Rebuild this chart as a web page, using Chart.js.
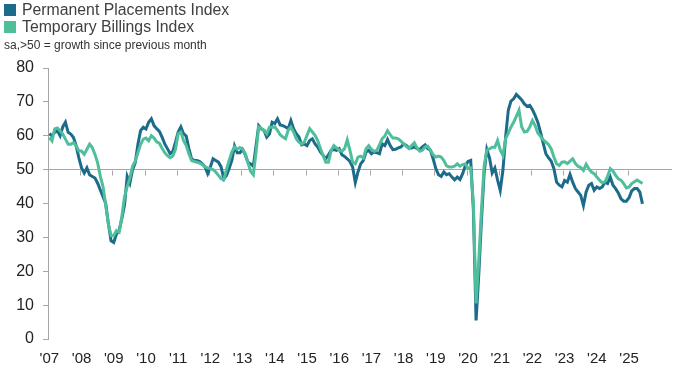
<!DOCTYPE html>
<html><head><meta charset="utf-8">
<script src="https://cdn.jsdelivr.net/npm/chart.js@4.4.1/dist/chart.umd.min.js"></script>
<style>
html,body{margin:0;padding:0;background:#fff;}
#wrap{position:relative;width:683px;height:379px;overflow:hidden;font-family:"Liberation Sans",Arial,sans-serif;}
#c{position:absolute;left:0;top:0;}
.lg{position:absolute;left:4px;font-size:15.8px;color:#404040;line-height:16px;white-space:nowrap;}
.sw{display:inline-block;width:12px;height:12px;vertical-align:-1px;margin-right:6px;}
.sub{position:absolute;left:4px;top:38px;font-size:12px;color:#333;white-space:nowrap;}
</style></head>
<body><div id="wrap"><canvas id="c" width="683" height="379"></canvas>
<div class="lg" style="top:2px"><span class="sw" style="background:#1d6b8b"></span>Permanent Placements Index</div>
<div class="lg" style="top:19px"><span class="sw" style="background:#4fbe9b"></span>Temporary Billings Index</div>
<div class="sub">sa,&gt;50 = growth since previous month</div>
</div>
<script>
const yearLabels = ["'07","'08","'09","'10","'11","'12","'13","'14","'15","'16","'17","'18","'19","'20","'21","'22","'23","'24","'25"];
const seriesNames = ["Permanent Placements Index", "Temporary Billings Index"];
const baseline = 50;
// monthly, Jan 2007 - Jun 2025
const permanentPlacements = [
60.6,60.0,61.0,61.5,60.0,62.6,64.0,61.0,60.5,59.5,57.0,53.5,
50.5,49.0,50.5,48.5,48.0,47.5,46.0,44.0,42.0,40.0,34.0,29.0,
28.5,31.0,32.0,35.5,39.5,48.0,46.0,50.0,52.0,57.5,61.5,62.5,
62.0,64.0,65.0,63.0,62.1,61.3,59.6,57.6,56.2,54.7,55.4,58.1,
61.1,62.6,60.6,59.9,56.2,53.2,52.7,52.7,52.4,51.7,50.8,48.8,
50.8,53.2,52.7,52.2,50.8,47.3,48.3,50.3,52.7,57.0,55.0,55.0,
56.0,54.4,52.2,51.7,51.0,57.0,63.0,62.0,61.6,59.6,60.5,64.0,
63.6,65.0,63.2,63.0,62.6,62.1,64.5,62.1,60.6,59.6,57.3,57.6,
57.1,58.6,59.1,57.6,56.7,55.2,54.2,53.2,54.4,55.7,55.9,55.7,
56.2,54.4,53.9,53.2,52.4,50.8,46.2,49.3,51.7,52.7,55.2,55.7,
54.7,55.2,55.0,54.7,57.6,57.1,58.9,57.1,55.9,56.0,56.4,56.7,
57.6,57.1,56.4,56.4,56.7,56.2,55.9,56.7,57.3,56.2,55.7,53.2,
50.3,48.5,48.0,49.3,48.5,48.8,47.8,47.0,47.8,47.1,48.8,51.2,
52.4,52.7,38.0,5.5,19.0,35.0,49.0,56.0,53.5,49.0,50.5,47.0,
43.9,49.8,59.6,67.5,70.2,70.9,72.2,71.4,70.6,69.4,68.7,69.0,
67.7,66.0,64.0,61.1,57.8,54.7,53.5,52.5,50.3,46.3,45.4,44.9,
46.8,46.3,48.6,46.3,44.4,43.4,42.4,39.4,43.4,45.4,45.9,43.9,
44.9,44.4,44.9,46.3,45.9,47.8,45.4,44.4,43.1,41.4,40.7,40.7,
41.7,43.7,44.4,44.4,43.4,39.9
];
const temporaryBillings = [
59.5,58.5,62.0,62.3,61.5,60.5,59.0,57.5,57.5,58.0,57.0,55.5,
55.5,54.5,56.0,57.5,56.5,54.5,52.0,48.0,45.0,39.5,34.0,30.5,
30.5,32.0,31.5,36.0,42.0,45.0,47.5,51.0,52.5,55.0,57.5,59.0,
59.3,58.5,60.0,59.3,58.2,57.8,56.3,55.0,54.1,53.5,54.0,56.0,
60.6,61.1,58.6,57.1,54.7,52.7,52.4,52.2,51.9,51.5,50.8,50.5,
50.3,50.0,49.3,48.3,47.3,47.0,50.1,52.7,55.2,56.7,56.0,56.5,
56.0,54.7,52.0,49.5,48.5,55.0,62.6,62.1,61.6,60.6,62.5,62.5,
62.6,61.6,60.3,59.6,59.1,61.6,62.6,61.1,59.1,58.1,57.6,58.1,
60.1,62.1,61.1,60.1,58.6,56.2,54.2,52.2,52.2,55.7,57.1,56.4,
55.7,55.4,56.2,58.8,55.7,52.2,51.7,53.7,54.0,53.4,56.2,57.1,
56.0,55.4,55.7,57.3,59.1,59.9,61.5,60.3,59.3,59.3,59.1,58.4,
57.6,56.9,56.2,57.1,57.9,56.4,55.4,55.7,56.7,56.9,55.7,54.4,
53.7,54.0,53.7,52.7,51.1,50.8,50.8,51.0,51.7,51.0,51.5,51.7,
50.3,50.5,40.0,10.5,23.0,38.0,51.0,55.8,56.1,56.6,56.6,58.6,
55.8,54.2,59.1,60.8,62.6,64.0,65.7,67.5,62.6,61.1,61.3,62.6,
64.5,63.0,60.8,59.8,58.8,58.1,57.4,56.1,53.7,51.7,51.2,52.2,
52.3,51.8,52.5,53.2,51.8,51.0,50.6,49.8,51.6,50.3,49.3,48.8,
47.8,46.9,46.1,46.4,48.0,50.3,49.6,48.3,47.3,46.9,45.9,44.6,
44.9,45.9,46.4,46.9,46.4,45.9
];

const toPoints = arr => arr.map((v, i) => ({x: i, y: v}));

const yearTicks = {
  id: 'yearTicks',
  beforeDatasetsDraw(chart) {
    const {ctx, scales: {x, y}} = chart;
    const y50 = Math.round(y.getPixelForValue(baseline)) + 0.5;
    ctx.save();
    ctx.strokeStyle = '#a6a6a6';
    ctx.lineWidth = 1;
    ctx.beginPath();
    for (let k = 1; k < yearLabels.length; k++) {
      const px = Math.round(x.getPixelForValue(k * 12 - 0.5)) + 0.5;
      ctx.moveTo(px, y50);
      ctx.lineTo(px, y50 + 5);
    }
    ctx.stroke();
    ctx.restore();
  }
};

new Chart(document.getElementById('c'), {
  type: 'line',
  data: {
    datasets: [
      {label: seriesNames[0], data: toPoints(permanentPlacements), borderColor: '#1d6b8b', borderWidth: 3, pointRadius: 0, tension: 0, order: 1},
      {label: seriesNames[1], data: toPoints(temporaryBillings), borderColor: '#4fbe9b', borderWidth: 3, pointRadius: 0, tension: 0, order: 0}
    ]
  },
  options: {
    responsive: false,
    animation: false,
    devicePixelRatio: 1,
    layout: {padding: {top: 68, right: 11, bottom: 0, left: 0}},
    plugins: {legend: {display: false}, tooltip: {enabled: false}},
    scales: {
      x: {
        type: 'linear', min: -0.5, max: 232,
        grid: {display: false},
        border: {display: false},
        afterBuildTicks: s => { s.ticks = yearLabels.map((_, k) => ({value: k * 12})); },
        afterFit: s => { s.height = 40; },
        ticks: {
          autoSkip: false, maxRotation: 0, padding: 3,
          color: '#222',
          font: {family: "'Liberation Sans Narrow','Liberation Sans',Arial", size: 15},
          callback: v => yearLabels[Math.round(v / 12)]
        }
      },
      y: {
        min: 0, max: 80,
        afterFit: s => { s.width = 48; },
        ticks: {stepSize: 10, padding: 9, color: '#222', font: {family: "'Liberation Sans',Arial", size: 16}},
        grid: {
          color: c => (c.tick && c.tick.value === baseline) ? '#a6a6a6' : 'rgba(0,0,0,0)',
          tickColor: '#a6a6a6', tickLength: 5, lineWidth: 1
        },
        border: {display: true, color: '#a6a6a6', width: 1}
      }
    }
  },
  plugins: [yearTicks]
});
</script>
</body></html>
